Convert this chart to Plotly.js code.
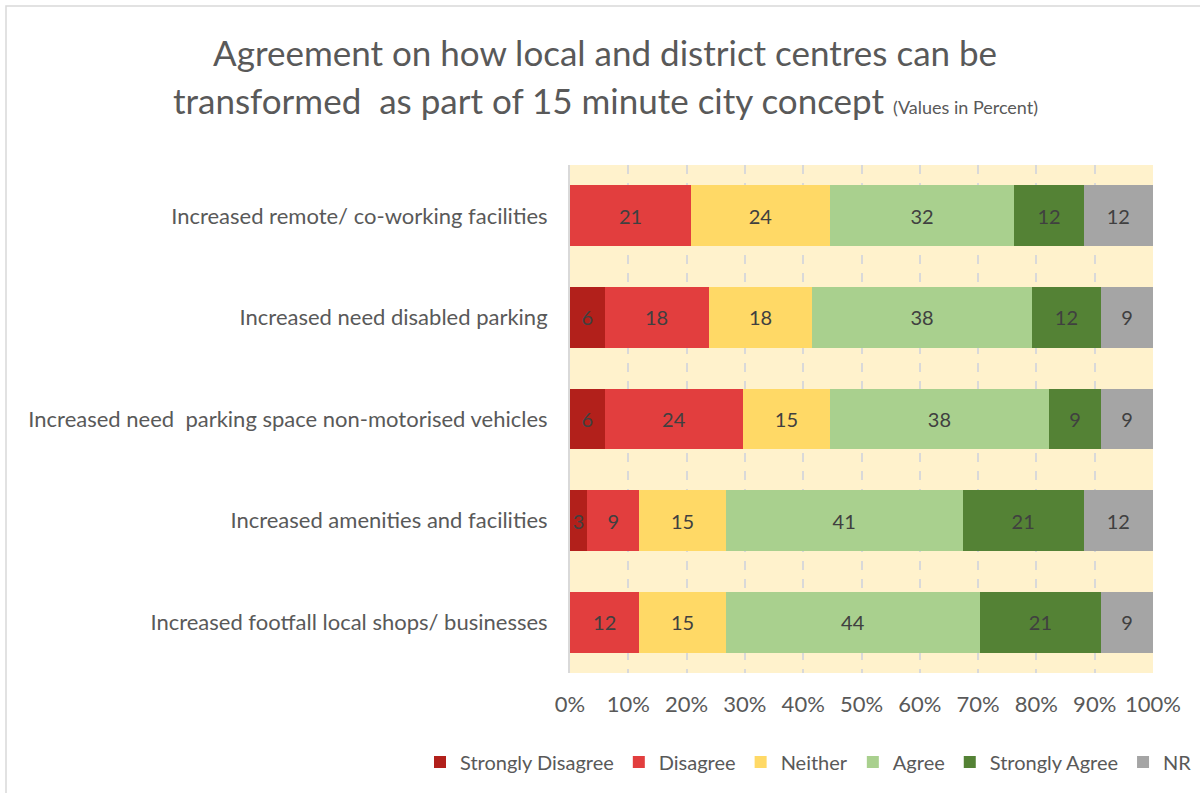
<!DOCTYPE html>
<html><head><meta charset="utf-8">
<script src="https://cdn.plot.ly/plotly-3.0.1.min.js"></script>
<style>html,body{margin:0;padding:0;background:#fff}#chart{width:1200px;height:793px}</style>
</head><body><div id="chart"></div>
<script>
const categories = [
  "Increased remote/ co-working facilities",
  "Increased need disabled parking",
  "Increased need\u00a0 parking space non-motorised vehicles",
  "Increased amenities and facilities",
  "Increased footfall local shops/ businesses"
];
const seriesNames = ["Strongly Disagree","Disagree","Neither","Agree","Strongly Agree","NR"];
const stronglyDisagree = [null, 6, 6, 3, null];
const disagree = [21, 18, 24, 9, 12];
const neither = [24, 18, 15, 15, 15];
const agree = [32, 38, 38, 41, 44];
const stronglyAgree = [12, 12, 9, 21, 21];
const nr = [12, 9, 9, 12, 9];
const seriesValues = [stronglyDisagree, disagree, neither, agree, stronglyAgree, nr];
const colors = ["#B2201B","#E23E3E","#FFD966","#A9D08E","#548235","#A5A5A5"];

const FONT = "Lato, 'Open Sans', sans-serif";
const traces = seriesNames.map((name, i) => ({
  type: 'bar', orientation: 'h', name: name,
  y: categories, x: seriesValues[i],
  text: seriesValues[i].map(v => v == null ? '' : String(v)),
  texttemplate: '%{text}', textposition: 'inside', insidetextanchor: 'middle',
  constraintext: 'none', textangle: 0,
  textfont: {family: FONT, size: 20, color: '#404040'},
  marker: {color: colors[i], line: {width: 0}},
  hoverinfo: 'skip'
}));

const layout = {
  width: 1200, height: 793,
  margin: {l: 570, r: 47, t: 165, b: 120, autoexpand: false},
  paper_bgcolor: '#ffffff', plot_bgcolor: '#FFF2CC',
  barmode: 'stack', barnorm: 'percent', bargap: 0.4,
  font: {family: FONT, color: '#595959', size: 22},
  showlegend: true,
  legend: {orientation: 'h', xref: 'paper', yref: 'paper', x: (420-570)/583, xanchor: 'left',
           y: (673-762)/508, yanchor: 'middle', bgcolor: 'rgba(0,0,0,0)',
           font: {family: FONT, size: 20, color: '#595959'}, traceorder: 'normal',
           itemwidth: 30, tracegroupgap: 0},
  xaxis: {range: [0, 100], dtick: 10, ticksuffix: '%', showgrid: true,
          gridcolor: '#D9D9D9', griddash: 'dash', gridwidth: 2, zeroline: false,
          showline: false, ticks: '', ticklabelstandoff: 16, fixedrange: true,
          tickfont: {family: FONT, size: 22, color: '#595959'}},
  yaxis: {autorange: 'reversed', showgrid: false, ticks: '', ticklabelstandoff: 16,
          showline: true, linecolor: '#D9D9D9', linewidth: 2, fixedrange: true,
          tickfont: {family: FONT, size: 22, color: '#595959'}},
  annotations: [
    {text: 'Agreement on how local and district centres can be', xref: 'paper', yref: 'paper',
     x: (605-570)/583, y: (673-52)/508, xanchor: 'center', yanchor: 'middle', showarrow: false,
     font: {family: FONT, size: 35, color: '#595959'}},
    {text: 'transformed\u00a0 as part of 15 minute city concept <span style="font-size:18px">(Values in Percent)</span>',
     xref: 'paper', yref: 'paper', x: (605-570)/583, y: (673-100)/508, xanchor: 'center', yanchor: 'middle',
     showarrow: false, font: {family: FONT, size: 35, color: '#595959'}}
  ],
  shapes: [
    {type: 'rect', xref: 'paper', yref: 'paper', x0: (6-570)/583, x1: (1215-570)/583,
     y0: (673-810)/508, y1: (673-6)/508, line: {color: '#D9D9D9', width: 1.5}, fillcolor: 'rgba(0,0,0,0)', layer: 'below'}
  ]
};
Plotly.newPlot('chart', traces, layout, {displayModeBar: false, staticPlot: true});
</script></body></html>
